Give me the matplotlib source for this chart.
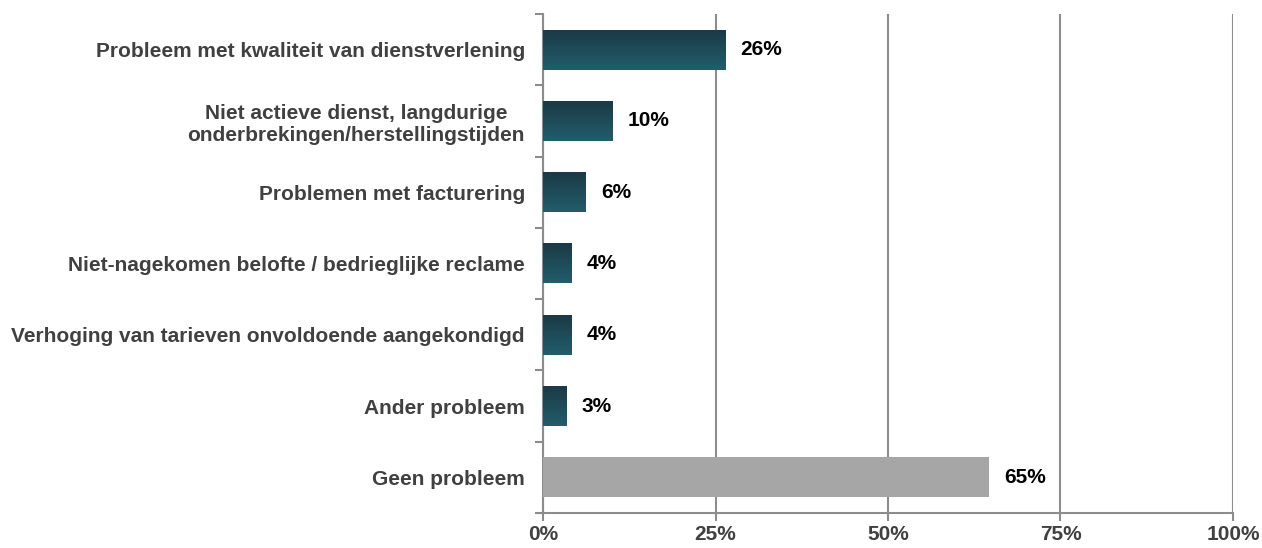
import numpy as np
import matplotlib.pyplot as plt
from matplotlib.colors import LinearSegmentedColormap

plt.rcParams['font.family'] = ['Liberation Sans', 'DejaVu Sans']

categories = [
    'Probleem met kwaliteit van dienstverlening',
    'Niet actieve dienst, langdurige\nonderbrekingen/herstellingstijden',
    'Problemen met facturering',
    'Niet-nagekomen belofte / bedrieglijke reclame',
    'Verhoging van tarieven onvoldoende aangekondigd',
    'Ander probleem',
    'Geen probleem',
]
values = [26.4, 10.1, 6.2, 4.1, 4.1, 3.4, 64.6]
value_labels = ['26%', '10%', '6%', '4%', '4%', '3%', '65%']
xticks = [0, 25, 50, 75, 100]
xticklabels = ['0%', '25%', '50%', '75%', '100%']

grid_col = '#8c8c8c'
text_col = '#404040'
grad = LinearSegmentedColormap.from_list('teal', ['#1b3a45', '#235d6b'])

fig = plt.figure(figsize=(12.62, 5.48), dpi=100)
ax = fig.add_axes([0.4303, 0.0639, 0.977 - 0.4303, 0.9745 - 0.0639])

y = np.arange(len(categories))
bar_h = 0.56
bars = ax.barh(y, values, height=bar_h, color='none', zorder=3)

# gradient fill for the problem bars, flat grey for the last one
g = np.linspace(0, 1, 100).reshape(-1, 1)
for i, b in enumerate(bars):
    x0, y0 = b.get_x(), b.get_y()
    w, h = b.get_width(), b.get_height()
    if i == len(bars) - 1:
        b.set_facecolor('#a6a6a6')
    else:
        ax.imshow(g, cmap=grad, aspect='auto', extent=[x0, x0 + w, y0 + h, y0],
                  origin='upper', zorder=3, interpolation='bicubic')

for yi, v, lab in zip(y, values, value_labels):
    ax.text(v + 2.2, yi, lab, va='center', ha='left', fontsize=15,
            fontweight='bold', color='black', zorder=4)

ax.set_xlim(0, 100)
ax.set_ylim(len(categories) - 0.5, -0.5)

ax.set_xticks(xticks)
ax.set_xticklabels(xticklabels, fontsize=15, fontweight='bold', color=text_col)
ax.tick_params(axis='x', direction='out', length=6, width=1.5, color=grid_col, pad=3)

ax.set_yticks(y)
ax.set_yticklabels(categories, fontsize=15, fontweight='bold', color=text_col,
                   multialignment='center')
ax.tick_params(axis='y', which='major', length=0, pad=13)
ax.set_yticks(np.arange(-0.5, len(categories), 1), minor=True)
ax.tick_params(axis='y', which='minor', direction='out', length=6, width=1.5, color=grid_col)

ax.grid(axis='x', color=grid_col, linewidth=1.5, zorder=0)
ax.set_axisbelow(True)

for s in ['top', 'right']:
    ax.spines[s].set_visible(False)
for s in ['left', 'bottom']:
    ax.spines[s].set_color(grid_col)
    ax.spines[s].set_linewidth(1.5)

fig.savefig('out.png', dpi=100)
